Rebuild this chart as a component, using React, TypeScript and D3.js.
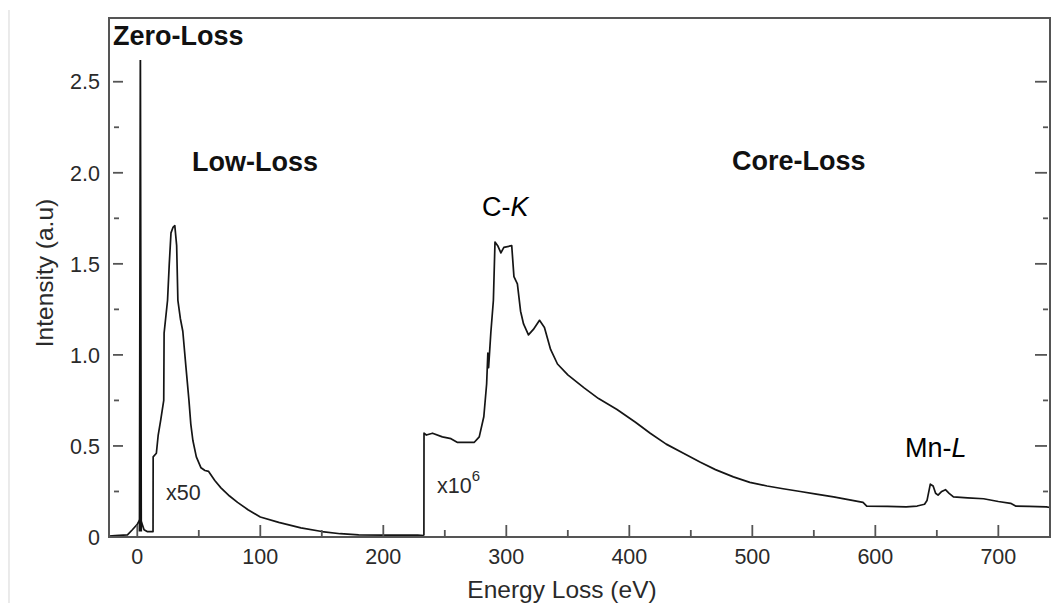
import React from "react";
import * as d3 from "d3";

// ---- data ----
const zeroLossE = [1.8, 2.5, 3.2];
const zeroLossI = [0.03, 2.62, 0.03];

const lowLossE = [-23, -18, -8, -4, 0, 2.5, 4, 5.5, 8, 12.8, 12.9, 15.5, 17, 19, 21.5, 21.8, 24.6, 26, 27.4, 29, 30.5, 32, 33, 35, 37, 39.6, 42, 43.5, 45.2, 48, 51.8, 55, 58, 63, 68, 75, 81.5, 90, 100, 115, 133, 150, 165, 180, 200, 228, 233];
const lowLossI = [0.005, 0.008, 0.012, 0.04, 0.07, 0.1, 0.07, 0.04, 0.03, 0.03, 0.44, 0.46, 0.56, 0.64, 0.75, 1.12, 1.3, 1.5, 1.67, 1.7, 1.71, 1.6, 1.3, 1.2, 1.13, 0.93, 0.75, 0.62, 0.53, 0.44, 0.38, 0.365, 0.36, 0.31, 0.27, 0.225, 0.19, 0.15, 0.11, 0.08, 0.05, 0.03, 0.018, 0.012, 0.01, 0.01, 0.008];

const coreLossE = [233, 233.1, 235, 240, 248, 255, 260, 274, 278, 281.7, 284, 285, 285.6, 287.4, 289.5, 290.8, 293, 295.6, 298, 304.4, 306.2, 309, 311.6, 314, 318, 322, 327, 331, 336, 341.6, 350, 363, 375, 390, 405, 417, 430, 444, 457.8, 470, 484.6, 498, 512, 525, 539, 552, 566, 578, 590, 593, 610, 625, 634, 640, 642, 644.7, 647, 649, 651, 654, 657, 660, 663.5, 675, 688, 700, 710, 714, 725, 739, 742];
const coreLossI = [0.008, 0.57, 0.56, 0.57, 0.55, 0.54, 0.52, 0.52, 0.55, 0.66, 0.84, 1.01, 0.93, 1.12, 1.3, 1.62, 1.6, 1.56, 1.59, 1.6, 1.43, 1.39, 1.24, 1.17, 1.11, 1.14, 1.19, 1.15, 1.03, 0.95, 0.89, 0.82, 0.76, 0.7, 0.63, 0.57, 0.51, 0.46, 0.41, 0.37, 0.33, 0.3, 0.28, 0.265, 0.25, 0.235, 0.22, 0.205, 0.19, 0.17, 0.168, 0.165, 0.17, 0.18, 0.2, 0.29, 0.28, 0.24, 0.23, 0.25, 0.26, 0.24, 0.22, 0.215, 0.21, 0.195, 0.185, 0.17, 0.168, 0.165, 0.162];

const xMajorTicks = [0, 100, 200, 300, 400, 500, 600, 700];
const xMinorTicks = [50, 150, 250, 350, 450, 550, 650];
const yMajorTicks = [0, 0.5, 1.0, 1.5, 2.0, 2.5];
const yMinorTicks = [0.25, 0.75, 1.25, 1.75, 2.25];
const yTickLabels = ["0", "0.5", "1.0", "1.5", "2.0", "2.5"];

const xDomain = [-23, 742];
const yDomain = [0, 2.85];

export default function App() {
  const W = 1054, H = 603;
  const left = 109, right = 1050, top = 18, bottom = 537;
  const x = d3.scaleLinear().domain(xDomain).range([left, right]);
  const y = d3.scaleLinear().domain(yDomain).range([bottom, top]);

  const mk = (es: number[], is: number[]) =>
    d3.line<number>().x((_, i) => x(es[i])).y((_, i) => y(is[i]))(es as any) || "";

  const font = "'Liberation Sans', Arial, Helvetica, sans-serif";
  const frame = "#555";
  const txt = "#2a2a2a";

  return (
    <svg width={W} height={H} style={{ position: "absolute", left: 0, top: 0, background: "#fff" }} fontFamily={font}>
      <rect x={0} y={0} width={W} height={H} fill="#fff" />
      <line x1={9} x2={9} y1={10} y2={H} stroke="#ddd" strokeWidth={1.2} />

      {/* curves */}
      <path d={mk(lowLossE, lowLossI)} fill="none" stroke="#151515" strokeWidth={1.7} strokeLinejoin="round" />
      <path d={mk(coreLossE, coreLossI)} fill="none" stroke="#151515" strokeWidth={1.7} strokeLinejoin="round" />
      <path d={mk(zeroLossE, zeroLossI)} fill="none" stroke="#111" strokeWidth={1.8} />

      {/* frame */}
      <rect x={left} y={top} width={right - left} height={bottom - top} fill="none" stroke={frame} strokeWidth={2} />

      {/* x ticks */}
      {xMajorTicks.map((t) => (
        <g key={"xM" + t}>
          <line x1={x(t)} x2={x(t)} y1={bottom} y2={bottom - 12} stroke={frame} strokeWidth={1.8} />
          <text x={x(t)} y={564} textAnchor="middle" fontSize={21.5} fill={txt}>{t}</text>
        </g>
      ))}
      {xMinorTicks.map((t) => (
        <line key={"xm" + t} x1={x(t)} x2={x(t)} y1={bottom} y2={bottom - 7} stroke={frame} strokeWidth={1.8} />
      ))}

      {/* y ticks left & right */}
      {yMajorTicks.map((t, i) => (
        <g key={"yM" + t}>
          {t !== 0 && <line x1={left + 4} x2={left + 14} y1={y(t)} y2={y(t)} stroke={frame} strokeWidth={1.8} />}
          {t !== 0 && <line x1={right - 15} x2={right - 3} y1={y(t)} y2={y(t)} stroke={frame} strokeWidth={1.8} />}
          <text x={100} y={y(t)} dy="0.36em" textAnchor="end" fontSize={21.5} fill={txt}>{yTickLabels[i]}</text>
        </g>
      ))}
      {yMinorTicks.map((t) => (
        <g key={"ym" + t}>
          <line x1={left + 5} x2={left + 10} y1={y(t)} y2={y(t)} stroke={frame} strokeWidth={1.8} />
          <line x1={right - 7} x2={right - 2} y1={y(t)} y2={y(t)} stroke={frame} strokeWidth={1.8} />
        </g>
      ))}

      {/* axis titles */}
      <text x={562} y={598} textAnchor="middle" fontSize={24.5} fill={txt}>Energy Loss (eV)</text>
      <text transform="translate(53,273) rotate(-90)" textAnchor="middle" fontSize={24.5} fill={txt}>Intensity (a.u)</text>

      {/* annotations */}
      <text x={113} y={45} fontSize={27} fontWeight="bold" fill="#111">Zero-Loss</text>
      <text x={192} y={171} fontSize={27} fontWeight="bold" fill="#111">Low-Loss</text>
      <text x={732} y={170} fontSize={27} fontWeight="bold" fill="#111">Core-Loss</text>
      <text x={482} y={216} fontSize={27} fill="#000">C-<tspan fontStyle="italic">K</tspan></text>
      <text x={905} y={457} fontSize={27} fill="#000">Mn-<tspan fontStyle="italic">L</tspan></text>
      <text x={166} y={500} fontSize={21.5} fill={txt}>x50</text>
      <text x={437} y={493} fontSize={21.5} fill={txt}>x10<tspan fontSize={15} dy={-12}>6</tspan></text>
    </svg>
  );
}
